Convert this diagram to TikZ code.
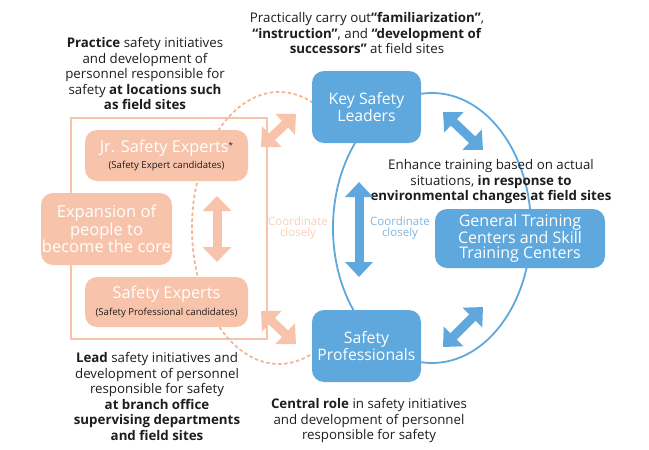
\documentclass[tikz,border=0pt]{standalone}
\usepackage{fontspec}
\setmainfont{Open Sans}
\usetikzlibrary{arrows.meta,backgrounds}
\pgfdeclarelayer{edgelayer}
\pgfdeclarelayer{nodelayer}
\pgfsetlayers{edgelayer,nodelayer,main}
\definecolor{peach}{RGB}{247,196,171}
\definecolor{peachline}{RGB}{245,182,150}
\definecolor{peachtext}{RGB}{249,206,186}
\definecolor{skyblue}{RGB}{94,168,221}
\definecolor{skytext}{RGB}{125,182,226}
\definecolor{ink}{RGB}{30,28,28}
\tikzset{font=\fontsize{13.3}{15.5}\selectfont}
\tikzstyle{none}=[inner sep=0pt]
\tikzstyle{note}=[inner sep=0pt,align=center,text=ink]
\tikzstyle{peachbox}=[rectangle,rounded corners=12pt,fill=peach,text=white,align=center,inner sep=0pt]
\tikzstyle{bluebox}=[rectangle,rounded corners=12pt,fill=skyblue,text=white,align=center,inner sep=0pt]
\tikzstyle{fatpeach}=[draw=peach,line width=9pt,{Triangle[width=28pt,length=15pt]}-{Triangle[width=28pt,length=15pt]}]
\tikzstyle{fatblue}=[draw=skyblue,line width=9pt,{Triangle[width=27pt,length=15pt]}-{Triangle[width=27pt,length=15pt]}]
\tikzstyle{closely}=[inner sep=0pt,align=center,font=\fontsize{11.5}{10.5}\selectfont]

\begin{document}
\begin{tikzpicture}[x=1pt,y=1pt]
	\useasboundingbox (0,0) rectangle (649,-450);
	\begin{pgfonlayer}{nodelayer}
		\node [style=peachbox,minimum width=163pt,minimum height=51pt] (0) at (166.5,-155.5) {{\fontsize{16.3}{18}\selectfont Jr. Safety Experts\raisebox{4pt}{\color{ink}\fontsize{8}{8}\selectfont*}}\\[1pt]{\color{ink}\fontsize{9.6}{10}\selectfont(Safety Expert candidates)}};
		\node [style=peachbox,minimum width=131pt,minimum height=72pt,font=\fontsize{16.5}{17.5}\selectfont] (1) at (106.5,-229) {Expansion of\\people to\\become the core};
		\node [style=peachbox,minimum width=163pt,minimum height=50pt] (2) at (166.5,-302) {{\fontsize{16.3}{18}\selectfont Safety Experts}\\[2pt]{\color{ink}\fontsize{9.6}{10}\selectfont(Safety Professional candidates)}};
		\node [style=bluebox,minimum width=109pt,minimum height=72pt,font=\fontsize{15.8}{14.5}\selectfont] (3) at (366.5,-107) {Key Safety\\Leaders};
		\node [style=bluebox,minimum width=109pt,minimum height=72pt,font=\fontsize{15.8}{14.5}\selectfont] (4) at (366.5,-346) {Safety\\Professionals};
		\node [style=bluebox,minimum width=170pt,minimum height=59pt,font=\fontsize{16}{15.5}\selectfont] (5) at (520,-238.5) {General Training\\Centers and Skill\\Training Centers};
		\node [style=note] (6) at (367,-33) {Practically carry out\textbf{“familiarization”},\\\textbf{“instruction”}, and \textbf{“development of}\\\textbf{successors”} at field sites};
		\node [style=note] (7) at (145,-73.5) {\textbf{Practice} safety initiatives\\and development of\\personnel responsible for\\safety \textbf{at locations such}\\\textbf{as field sites}};
		\node [style=note] (8) at (491,-182) {Enhance training based on actual\\situations, \textbf{in response to}\\\textbf{environmental changes at field sites}};
		\node [style=note] (9) at (157,-396.5) {\textbf{Lead} safety initiatives and\\development of personnel\\responsible for safety\\\textbf{at branch office}\\\textbf{supervising departments}\\\textbf{and field sites}};
		\node [style=note] (10) at (369,-421) {\textbf{Central role} in safety initiatives\\and development of personnel\\responsible for safety};
		\node [style=closely,text=peachtext] (11) at (298,-228) {Coordinate\\closely};
		\node [style=closely,text=skytext] (12) at (400,-228) {Coordinate\\closely};
		\coordinate (13) at (71,-118);
		\coordinate (14) at (267,-339);
		\coordinate (15) at (322.5,-110.2);
		\coordinate (16) at (432,-228);
	\end{pgfonlayer}
	\begin{pgfonlayer}{edgelayer}
		\draw[peach,line width=1.3pt] (13) rectangle (14);
		\draw[peachline,line width=1.8pt,dash pattern=on 3.5pt off 2.5pt] (15) arc[start angle=60,end angle=300,x radius=87,y radius=136];
		\draw[skyblue,line width=1.8pt] (16) ellipse [x radius=99,y radius=135];
	\end{pgfonlayer}
	% double arrows between the groups
	\coordinate (17) at (261,-147);
	\coordinate (18) at (296,-114);
	\coordinate (19) at (261,-311);
	\coordinate (20) at (296,-344);
	\coordinate (21) at (217,-196);
	\coordinate (22) at (217,-262);
	\coordinate (23) at (359,-182);
	\coordinate (24) at (359,-277);
	\coordinate (25) at (443,-112);
	\coordinate (26) at (483,-150);
	\coordinate (27) at (443,-347);
	\coordinate (28) at (483,-307);
	\draw[style=fatpeach] (17) to (18);
	\draw[style=fatpeach] (19) to (20);
	\draw[style=fatpeach] (21) to (22);
	\draw[style=fatblue] (23) to (24);
	\draw[style=fatblue] (25) to (26);
	\draw[style=fatblue] (27) to (28);
\end{tikzpicture}
\end{document}
